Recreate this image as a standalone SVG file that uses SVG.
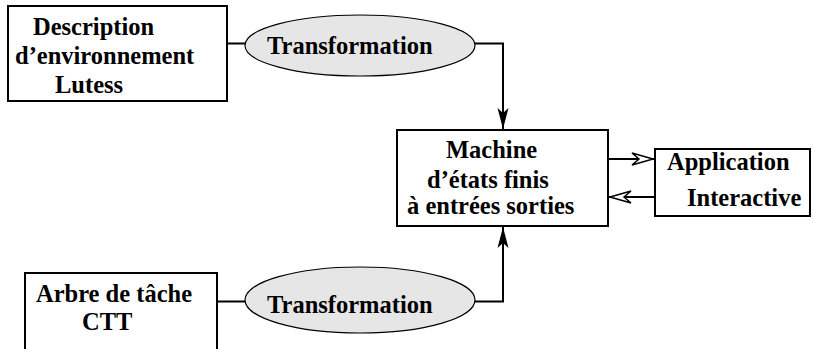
<svg xmlns="http://www.w3.org/2000/svg" width="813" height="349" viewBox="0 0 813 349">
<defs>
<style>
.box{fill:#fff;stroke:#000;stroke-width:2}
.ell{fill:#e6e6e6;stroke:#000;stroke-width:1.2}
.t{font-family:"Liberation Serif","Times New Roman",serif;font-weight:bold;font-size:24.5px;fill:#000}
.c{fill:none;stroke:#000;stroke-width:2}
</style>
<marker id="fa" viewBox="-22 -8 24 16" refX="0" refY="0" markerWidth="24" markerHeight="16" markerUnits="userSpaceOnUse" orient="auto">
<path d="M0,0 L-21,-5.5 L-16,0 L-21,5.5 Z" fill="#000"/>
</marker>
<marker id="oa" viewBox="-25 -9 27 18" refX="0" refY="0" markerWidth="27" markerHeight="18" markerUnits="userSpaceOnUse" orient="auto">
<path d="M-1,0 L-22,-6 L-15,0 L-22,6 Z" fill="#fff" stroke="#000" stroke-width="1.5" stroke-linejoin="miter"/>
</marker>
</defs>
<rect width="813" height="349" fill="#fff"/>
<g id="connectors">
<line class="c" x1="226" y1="43.5" x2="246" y2="43.5"/>
<polyline class="c" points="474,43.5 503,43.5 503,129" marker-end="url(#fa)"/>
<line class="c" x1="217" y1="301.5" x2="246" y2="301.5"/>
<polyline class="c" points="474,301.5 503,301.5 503,227" marker-end="url(#fa)"/>
<line class="c" x1="609" y1="159" x2="654" y2="159" marker-end="url(#oa)"/>
<line class="c" x1="655" y1="197" x2="609" y2="197" marker-end="url(#oa)"/>
</g>
<g id="desc">
<rect class="box" x="8" y="6" width="219" height="95"/>
<text class="t" x="33" y="35">Description</text>
<text class="t" x="15" y="64">d’environnement</text>
<text class="t" x="55" y="93">Lutess</text>
</g>
<g id="transfo1">
<ellipse class="ell" cx="360" cy="45.5" rx="115" ry="30.5"/>
<text class="t" x="267" y="54">Transformation</text>
</g>
<g id="arbre">
<rect class="box" x="25" y="273" width="192" height="90"/>
<text class="t" x="36" y="302">Arbre de tâche</text>
<text class="t" x="82" y="330">CTT</text>
</g>
<g id="transfo2">
<ellipse class="ell" cx="360" cy="300" rx="115" ry="33"/>
<text class="t" x="267" y="313">Transformation</text>
</g>
<g id="machine">
<rect class="box" x="397" y="130" width="211" height="96"/>
<text class="t" x="446" y="158">Machine</text>
<text class="t" x="427" y="188">d’états finis</text>
<text class="t" x="407" y="214">à entrées sorties</text>
</g>
<g id="application">
<rect class="box" x="655" y="149" width="155" height="67"/>
<text class="t" x="667" y="170">Application</text>
<text class="t" x="687" y="206">Interactive</text>
</g>
</svg>
